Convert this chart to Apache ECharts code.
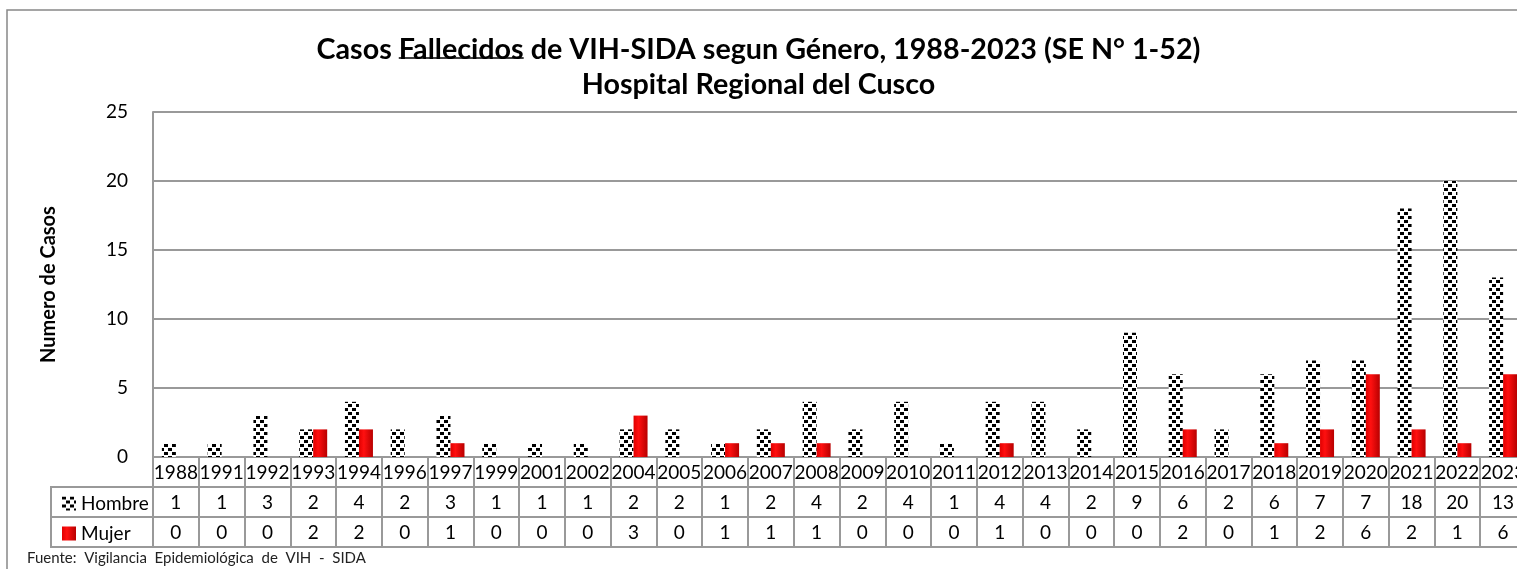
<!DOCTYPE html>
<html>
<head>
<meta charset="utf-8">
<script src="https://cdn.jsdelivr.net/npm/echarts@6/dist/echarts.min.js"></script>
<style>
  html, body { margin: 0; padding: 0; background: #fff; }
  #chart { width: 1517px; height: 569px; }
</style>
</head>
<body>
<div id="chart"></div>
<script>
// datos (SE 1-52)
const YEARS = ["1988", "1991", "1992", "1993", "1994", "1996", "1997", "1999", "2001", "2002",
  "2004", "2005", "2006", "2007", "2008", "2009", "2010", "2011", "2012", "2013",
  "2014", "2015", "2016", "2017", "2018", "2019", "2020", "2021", "2022", "2023"];
const HOMBRE = [1, 1, 3, 2, 4, 2, 3, 1, 1, 1, 2, 2, 1, 2, 4, 2, 4, 1, 4, 4, 2, 9, 6, 2, 6, 7, 7, 18, 20, 13];
const MUJER = [0, 0, 0, 2, 2, 0, 1, 0, 0, 0, 3, 0, 1, 1, 1, 0, 0, 0, 1, 0, 0, 0, 2, 0, 1, 2, 6, 2, 1, 6];
const Y_MAX = 25;
const Y_STEP = 5;

const FONT = "Lato, 'Noto Sans', sans-serif";
const GRAY = "#999";
const TITLE1 = "Casos Fallecidos de VIH-SIDA segun Género, 1988-2023 (SE N° 1-52)";
const TITLE2 = "Hospital Regional del Cusco";

// trama tipo "cuadros" para Hombre
function checker() {
  const c = document.createElement("canvas");
  c.width = 8;
  c.height = 8;
  const g = c.getContext("2d");
  g.fillStyle = "#fff";
  g.fillRect(0, 0, 8, 8);
  g.fillStyle = "#000";
  g.fillRect(0, 0, 4, 3);
  g.fillRect(4, 4, 4, 3);
  return c;
}

function textWidth(str, font) {
  const g = document.createElement("canvas").getContext("2d");
  g.font = font;
  return g.measureText(str).width;
}

const W = 1517;
const TITLE_SIZE = 28.7;
const titleFont = "bold " + TITLE_SIZE + "px Lato";
const fullW = textWidth(TITLE1, titleFont);
const ulX = W / 2 - fullW / 2 + textWidth("Casos ", titleFont);
const ulW = textWidth("Fallecidos", titleFont);

const ROW = 30;
const tableAxis = (offset, fmt) => ({
  type: "category",
  data: YEARS,
  position: "bottom",
  offset,
  axisLine: { lineStyle: { color: GRAY, width: 2 } },
  axisTick: { show: true, interval: 0, length: ROW, lineStyle: { color: GRAY, width: 2 } },
  axisLabel: { interval: 0, margin: 6, fontSize: 19, color: "#000", fontFamily: FONT, formatter: fmt },
});

const chart = echarts.init(document.getElementById("chart"));
chart.setOption({
  animation: false,
  textStyle: { fontFamily: FONT },
  title: {
    text: TITLE1 + "\n" + TITLE2,
    left: "center",
    top: 27,
    textStyle: { fontSize: TITLE_SIZE, fontWeight: "bold", color: "#000", lineHeight: 35, fontFamily: FONT },
  },
  legend: {
    data: ["Hombre", "Mujer"],
    orient: "vertical",
    left: 57,
    top: 489,
    icon: "rect",
    itemWidth: 14,
    itemHeight: 14,
    itemGap: 11,
    textStyle: { fontSize: 19, color: "#000", fontFamily: FONT },
  },
  grid: { left: 153, top: 112, width: 1373, bottom: 112, outerBoundsMode: "none", containLabel: false },
  xAxis: [
    tableAxis(0, (v) => v),
    tableAxis(ROW, (v, i) => String(HOMBRE[i])),
    tableAxis(ROW * 2, (v, i) => String(MUJER[i])),
    {
      type: "category",
      data: YEARS,
      position: "bottom",
      offset: ROW * 3,
      axisLine: { lineStyle: { color: GRAY, width: 2 } },
      axisTick: { show: false },
      axisLabel: { show: false },
    },
  ],
  yAxis: {
    type: "value",
    min: 0,
    max: Y_MAX,
    interval: Y_STEP,
    name: "Numero de Casos",
    nameLocation: "middle",
    nameGap: 94,
    nameTextStyle: { fontSize: 20, fontWeight: "bold", color: "#000", fontFamily: FONT },
    axisLine: { show: true, lineStyle: { color: GRAY, width: 2 } },
    axisTick: { show: false },
    axisLabel: { fontSize: 19, color: "#000", margin: 25, fontFamily: FONT },
    splitLine: { lineStyle: { color: GRAY, width: 2 } },
  },
  series: [
    {
      name: "Hombre",
      type: "bar",
      data: HOMBRE,
      barWidth: 14,
      barGap: "0%",
      itemStyle: { color: { image: checker(), repeat: "repeat" } },
    },
    {
      name: "Mujer",
      type: "bar",
      data: MUJER,
      barWidth: 14,
      itemStyle: {
        color: {
          type: "linear", x: 0, y: 0, x2: 1, y2: 0,
          colorStops: [
            { offset: 0, color: "#e00000" },
            { offset: 0.35, color: "#ff1010" },
            { offset: 1, color: "#b80000" },
          ],
        },
      },
    },
  ],
  graphic: [
    { type: "rect", shape: { x: 7, y: 10, width: 1540, height: 600 },
      style: { fill: null, stroke: "#888", lineWidth: 1.5 }, silent: true },
    { type: "rect", shape: { x: 51, y: 487, width: 102, height: 60 },
      style: { fill: null, stroke: GRAY, lineWidth: 2 }, silent: true },
    { type: "line", shape: { x1: 51, y1: 517, x2: 153, y2: 517 },
      style: { stroke: GRAY, lineWidth: 2 }, silent: true },
    { type: "line", shape: { x1: ulX, y1: 58, x2: ulX + ulW, y2: 58 },
      style: { stroke: "#000", lineWidth: 1.5 }, silent: true },
    { type: "text", x: 27, y: 558,
      style: { text: "Fuente:  Vigilancia  Epidemiológica  de  VIH  -  SIDA", font: "15px Lato",
        fill: "#222", textVerticalAlign: "middle" }, silent: true },
  ],
});
</script>
</body>
</html>
